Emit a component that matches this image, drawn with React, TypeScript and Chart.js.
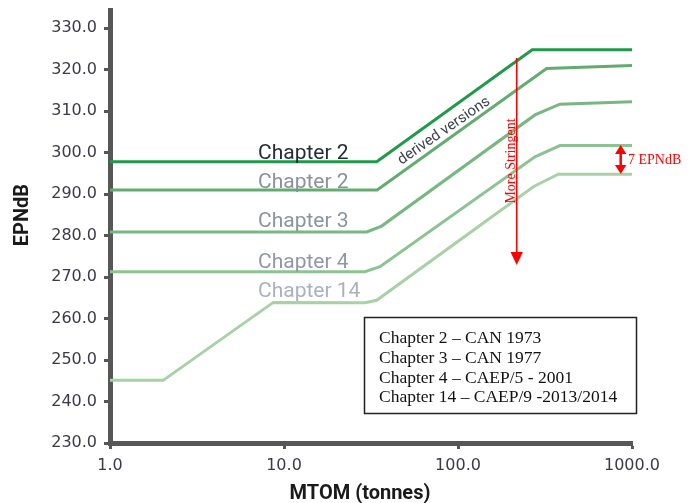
import React, { useEffect, useRef } from "react";
import { Chart, registerables } from "chart.js";
Chart.register(...registerables);

// MTOM (tonnes) breakpoints and EPNdB limits for each noise standard
const ch2TopX = [1, 34.1, 267, 1000];
const ch2TopY = [297.8, 297.8, 324.8, 324.8];
const ch2DerX = [1, 34.3, 323, 1000];
const ch2DerY = [291.0, 291.0, 320.3, 321.0];
const ch3X = [1, 29.9, 36.4, 277, 385, 1000];
const ch3Y = [280.9, 280.9, 282.3, 309.1, 311.7, 312.3];
const ch4X = [1, 29.2, 35.6, 277, 385, 1000];
const ch4Y = [271.3, 271.3, 272.5, 299.0, 301.7, 301.7];
const ch14X = [1, 2.02, 8.68, 29.2, 34.1, 271, 377, 1000];
const ch14Y = [245.1, 245.1, 263.9, 263.8, 264.4, 291.8, 294.8, 294.8];

const xTicks = [1, 10, 100, 1000];
const yTicks = [230, 240, 250, 260, 270, 280, 290, 300, 310, 320, 330];
const yMin = 230;
const yMax = 334.4;

const lineLabels = ["Chapter 2", "Chapter 2", "Chapter 3", "Chapter 4", "Chapter 14"];
const legendLines = [
  "Chapter 2 \u2013 CAN 1973",
  "Chapter 3 \u2013 CAN 1977",
  "Chapter 4 \u2013 CAEP/5 - 2001",
  "Chapter 14 \u2013 CAEP/9 -2013/2014",
];

const zip = (xs: number[], ys: number[]) => xs.map((x, i) => ({ x, y: ys[i] }));

const annotations = {
  id: "annotations",
  afterDraw(chart: any) {
    const ctx = chart.ctx as CanvasRenderingContext2D;
    ctx.save();
    // chapter labels
    const labelColors = ["#262a3a", "#8a909c", "#8a93a3", "#8f98a8", "#a9b1c1"];
    const labelY = [159, 188, 227, 268, 297];
    ctx.font = "21px Roboto";
    ctx.textAlign = "left";
    ctx.textBaseline = "alphabetic";
    lineLabels.forEach((t, i) => {
      ctx.fillStyle = labelColors[i];
      ctx.fillText(t, 258, labelY[i]);
    });
    // derived versions
    ctx.save();
    ctx.translate(444, 131);
    ctx.rotate((-34.6 * Math.PI) / 180);
    ctx.font = "15px Roboto";
    ctx.fillStyle = "#3c4150";
    ctx.textAlign = "center";
    ctx.textBaseline = "middle";
    ctx.fillText("derived versions", 0, 0);
    ctx.restore();
    // More stringent arrow
    ctx.strokeStyle = "#ff0000";
    ctx.fillStyle = "#ff0000";
    ctx.lineWidth = 1.6;
    ctx.beginPath();
    ctx.moveTo(516.7, 58);
    ctx.lineTo(516.7, 254);
    ctx.stroke();
    ctx.beginPath();
    ctx.moveTo(510.5, 252);
    ctx.lineTo(522.9, 252);
    ctx.lineTo(516.7, 265);
    ctx.closePath();
    ctx.fill();
    ctx.save();
    ctx.translate(511, 161);
    ctx.rotate(-Math.PI / 2);
    ctx.font = "14px 'Liberation Serif'";
    ctx.textAlign = "center";
    ctx.textBaseline = "middle";
    ctx.fillText("More Stringent", 0, 0);
    ctx.restore();
    // 7 EPNdB double arrow
    ctx.lineWidth = 2.5;
    ctx.beginPath();
    ctx.moveTo(620.7, 152);
    ctx.lineTo(620.7, 167);
    ctx.stroke();
    ctx.beginPath();
    ctx.moveTo(615, 154);
    ctx.lineTo(626.4, 154);
    ctx.lineTo(620.7, 145);
    ctx.closePath();
    ctx.fill();
    ctx.beginPath();
    ctx.moveTo(615, 165);
    ctx.lineTo(626.4, 165);
    ctx.lineTo(620.7, 174);
    ctx.closePath();
    ctx.fill();
    ctx.font = "14px 'Liberation Serif'";
    ctx.textAlign = "left";
    ctx.textBaseline = "middle";
    ctx.fillText("7 EPNdB", 628, 160);
    // legend box
    ctx.fillStyle = "#ffffff";
    ctx.fillRect(364.5, 317.5, 272, 96);
    ctx.strokeStyle = "#222222";
    ctx.lineWidth = 1.5;
    ctx.strokeRect(364.5, 317.5, 272, 96);
    ctx.fillStyle = "#111111";
    ctx.font = "17.5px 'Liberation Serif'";
    ctx.textAlign = "left";
    ctx.textBaseline = "alphabetic";
    legendLines.forEach((t, i) => ctx.fillText(t, 379, 343 + i * 19.8));
    // axis titles
    ctx.fillStyle = "#1a1a1a";
    ctx.font = "bold 20px Roboto";
    ctx.textAlign = "center";
    ctx.textBaseline = "middle";
    ctx.fillText("MTOM (tonnes)", 360, 494);
    ctx.save();
    ctx.translate(23, 215);
    ctx.rotate(-Math.PI / 2);
    ctx.fillText("EPNdB", 0, 0);
    ctx.restore();
    ctx.restore();
  },
};

export default function App() {
  const ref = useRef<HTMLCanvasElement | null>(null);
  useEffect(() => {
    if (!ref.current) return;
    const mk = (xs: number[], ys: number[], color: string, w: number) => ({
      data: zip(xs, ys),
      borderColor: color,
      backgroundColor: color,
      borderWidth: w,
      pointRadius: 0,
      tension: 0,
      fill: false,
    });
    const axisColor = "#575757";
    const tickFont = { family: "'DejaVu Sans'", size: 16 };
    const chart = new Chart(ref.current, {
      type: "line",
      data: {
        datasets: [
          mk(ch14X, ch14Y, "#a8d1a6", 3),
          mk(ch4X, ch4Y, "#8dc392", 3),
          mk(ch3X, ch3Y, "#78b782", 3),
          mk(ch2DerX, ch2DerY, "#64ab70", 3),
          mk(ch2TopX, ch2TopY, "#1f9a4a", 3),
        ] as any,
      },
      options: {
        animation: false,
        responsive: false,
        events: [],
        layout: { padding: { left: 0, right: 61, top: 10, bottom: 0 } },
        plugins: { legend: { display: false }, tooltip: { enabled: false } },
        scales: {
          x: {
            type: "logarithmic",
            min: 1,
            max: 1000,
            afterBuildTicks: (s: any) => {
              s.ticks = xTicks.map((v) => ({ value: v }));
            },
            afterFit: (s: any) => {
              s.height = 60;
              s.paddingLeft = 0;
              s.paddingRight = 0;
            },
            ticks: {
              autoSkip: false,
              maxRotation: 0,
              padding: 7,
              color: "#3a3a48",
              font: tickFont,
              callback: (v: any) => Number(v).toFixed(1),
            },
            grid: {
              drawOnChartArea: false,
              tickLength: 6,
              tickWidth: 3,
              tickColor: axisColor,
            },
            border: { display: true, color: axisColor, width: 5 },
          },
          y: {
            type: "linear",
            min: yMin,
            max: yMax,
            afterBuildTicks: (s: any) => {
              s.ticks = yTicks.map((v) => ({ value: v }));
            },
            afterFit: (s: any) => {
              s.width = 110;
              s.paddingTop = 0;
              s.paddingBottom = 0;
            },
            ticks: {
              autoSkip: false,
              padding: 7,
              color: "#3a3a48",
              font: tickFont,
              callback: (v: any) => Number(v).toFixed(1),
            },
            grid: {
              drawOnChartArea: false,
              tickLength: 6,
              tickWidth: 3,
              tickColor: axisColor,
            },
            border: { display: true, color: axisColor, width: 5 },
          },
        },
      } as any,
      plugins: [annotations],
    });
    return () => chart.destroy();
  }, []);
  return (
    <div style={{ position: "absolute", left: 0, top: 0, width: 693, height: 503, background: "#fff" }}>
      <canvas ref={ref} width={693} height={503} />
    </div>
  );
}
